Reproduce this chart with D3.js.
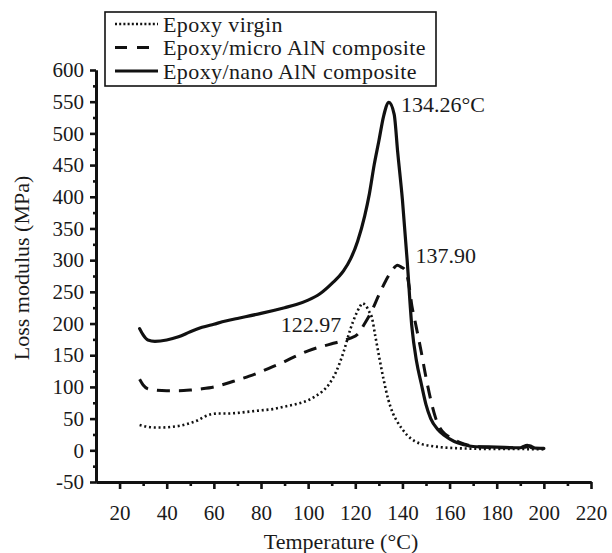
<!DOCTYPE html>
<html><head><meta charset="utf-8">
<script src="https://cdn.jsdelivr.net/npm/d3@7"></script>
<style>
body{margin:0;background:#fff}
svg{display:block}
text{font-family:"Liberation Serif","Times New Roman",serif;fill:#1a1a1a}
</style>
</head><body>
<svg id="c" width="612" height="553"></svg>
<script>
// ---- data ----
const seriesNames = ["Epoxy virgin", "Epoxy/micro AlN composite", "Epoxy/nano AlN composite"];

const tempVirgin = [28.5,32,35,38,42,46,50,53,56,59,62,66,70,75,80,85,90,95,100,103,106,109,112,115,118,120,122,122.97,124.5,126,127,128.5,130,132,134,136,138,140,142,145,148,152,156,162,170,180,190,200];
const lossVirgin = [40,37,36,36,37,39,43,47,53,57,58,58,59,61,63,65,69,73,79,85,93,105,125,155,192,212,227,232,228,218,210,180,150,112,80,58,44,33,24,15,10,7,5,3.5,2.5,2,2,1.5];

const tempMicro = [28.5,30,32,35,40,45,50,55,60,65,70,75,80,85,90,95,100,105,110,115,118,121,124,127,130,133,136,137.9,139.5,141,142,143,144,145,146,148,150,152,154,156,158,160,164,168,175,185,192,194,196,200];
const lossMicro = [112,103,97,95,94,94,95,97,100,105,111,117,124,132,140,149,157,163,168,173,177,183,200,220,245,268,286,292,289,285,275,255,228,210,192,155,115,80,52,35,26,21,13,8,5,4,5,7,4,3];

const tempNano = [28.5,30,32,35,40,45,50,55,60,65,70,80,90,95,100,105,110,115,118,121,124,126,128,130,132,134.26,136.5,138,140,142,144,146,148,150,152,155,158,162,166,170,180,190,193,195,200];
const lossNano = [192,182,174,172,174,179,187,194,199,204,208,216,225,230,237,247,263,283,302,330,370,405,450,488,527,549,530,470,395,300,195,140,105,72,50,33,23,14,9,6,5,4,8,4,3];

const peakLabels = ["122.97", "137.90", "134.26°C"];
const peakTemps = [122.97, 137.9, 134.26];
const peakValues = [232, 292, 549];

const xTicks = [20,40,60,80,100,120,140,160,180,200,220];
const xMinorTicks = [30,50,70,90,110,130,150,170,190,210];
const yTicks = [-50,0,50,100,150,200,250,300,350,400,450,500,550,600];
const yMinorTicks = [-25,25,75,125,175,225,275,325,375,425,475,525,575];

const xTitle = "Temperature (°C)";
const yTitle = "Loss modulus (MPa)";

// ---- drawing ----
const FONT = '"Liberation Serif","Times New Roman",serif';
const svg = d3.select("#c");
const x = d3.scaleLinear().domain([10, 220]).range([96, 591]);
const y = d3.scaleLinear().domain([-50, 600]).range([482, 70]);
const ink = "#111";

const styles = [
  {dash: "2,2.8", width: 2.6, cap: "butt"},
  {dash: "13,9", width: 3, cap: "butt"},
  {dash: null, width: 3.2, cap: "round"}
];
const series = [
  {t: tempVirgin, v: lossVirgin},
  {t: tempMicro, v: lossMicro},
  {t: tempNano, v: lossNano}
];

const line = d3.line().x(d => x(d[0])).y(d => y(d[1])).curve(d3.curveMonotoneX);

series.forEach((s, i) => {
  const pts = s.t.map((t, j) => [t, s.v[j]]);
  svg.append("path")
    .attr("d", line(pts))
    .attr("fill", "none")
    .attr("stroke", ink)
    .attr("stroke-width", styles[i].width)
    .attr("stroke-linejoin", "round")
    .attr("stroke-linecap", styles[i].cap)
    .attr("stroke-dasharray", styles[i].dash);
});

// axes
const fontSize = 21;
const fmt = d => String(d);
const yAxis = d3.axisLeft(y).tickValues(yTicks).tickSize(6).tickPadding(6).tickSizeOuter(0).tickFormat(fmt);
const yMinor = d3.axisLeft(y).tickValues(yMinorTicks).tickSize(3).tickSizeOuter(0).tickFormat("");
const xAxis = d3.axisBottom(x).tickValues(xTicks).tickSize(7).tickPadding(16).tickSizeOuter(0).tickFormat(fmt);
const xMinor = d3.axisBottom(x).tickValues(xMinorTicks).tickSize(4).tickSizeOuter(0).tickFormat("");

function styleAxis(g) {
  g.attr("font-family", FONT).attr("font-size", fontSize);
  g.select(".domain").attr("stroke", ink).attr("stroke-width", 3);
  g.selectAll(".tick line").attr("stroke", ink).attr("stroke-width", 2.6);
  g.selectAll(".tick text").attr("fill", "#1a1a1a").attr("font-family", FONT).style("font-size", fontSize + "px");
}

svg.append("g").attr("transform", `translate(${x(10)},0)`).call(yMinor).call(styleAxis);
svg.append("g").attr("transform", `translate(${x(10)},0)`).call(yAxis).call(styleAxis);
svg.append("g").attr("transform", `translate(0,${y(-50)})`).call(xMinor).call(styleAxis);
svg.append("g").attr("transform", `translate(0,${y(-50)})`).call(xAxis).call(styleAxis);

// titles
svg.append("text").attr("x", 341).attr("y", 549).attr("text-anchor", "middle")
  .style("font-size", "22px").text(xTitle);
svg.append("text").attr("transform", "translate(29,268) rotate(-90)").attr("text-anchor", "middle")
  .style("font-size", "22px").text(yTitle);

// peak annotations
const annoOffsets = [[-21, 29, "end"], [18, -2, "start"], [12, 10, "start"]];
peakLabels.forEach((lab, i) => {
  svg.append("text")
    .attr("x", x(peakTemps[i]) + annoOffsets[i][0])
    .attr("y", y(peakValues[i]) + annoOffsets[i][1])
    .attr("text-anchor", annoOffsets[i][2])
    .style("font-size", "22px")
    .text(lab);
});

// legend
const lg = svg.append("g");
lg.append("rect").attr("x", 105).attr("y", 12).attr("width", 331).attr("height", 74)
  .attr("fill", "#fff").attr("stroke", ink).attr("stroke-width", 1.6);
seriesNames.forEach((name, i) => {
  const cy = 24 + i * 23.5;
  lg.append("line").attr("x1", 115).attr("x2", 158).attr("y1", cy).attr("y2", cy)
    .attr("stroke", ink).attr("stroke-width", styles[i].width)
    .attr("stroke-dasharray", i === 1 ? "12,10" : (i === 0 ? "2,2.2" : null));
  lg.append("text").attr("x", 163).attr("y", cy + 7.5)
    .style("font-size", "22px").style("letter-spacing", "0.4px").text(name);
});
</script>
</body></html>
